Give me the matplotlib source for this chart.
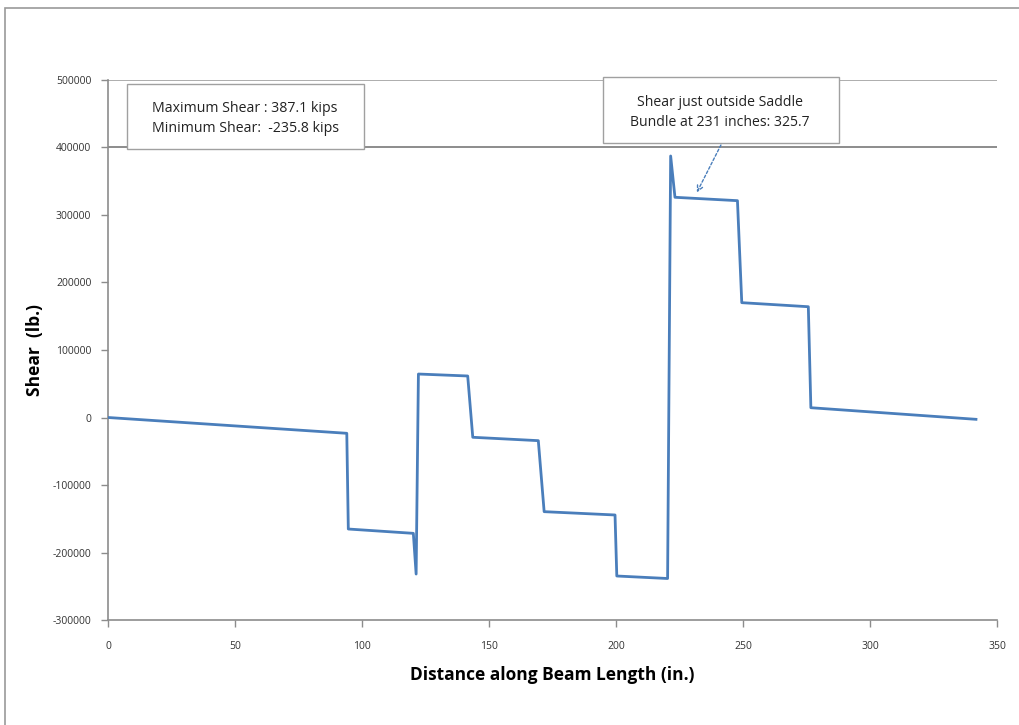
import matplotlib
matplotlib.use("Agg")
import matplotlib.pyplot as plt
from matplotlib.patches import Rectangle

plt.rcParams['font.family'] = ['Open Sans', 'DejaVu Sans']

# shear diagram vertices (in., lb.)
distance = [0, 94.0, 94.6, 120.2, 121.3, 122.2, 141.6, 143.6, 169.4, 171.7,
            199.6, 200.3, 220.3, 221.5, 223.2, 247.8, 249.5, 275.7, 276.7, 341.7]
shear = [0, -23400, -165200, -171600, -231900, 64400, 61500, -29300, -34300, -139500,
         -144400, -234800, -238500, 387400, 326200, 321200, 170100, 164100, 14500, -2700]

y_ticks = [-300000, -200000, -100000, 0, 100000, 200000, 300000, 400000, 500000]
x_ticks = [0, 50, 100, 150, 200, 250, 300, 350]

fig = plt.figure(figsize=(10.2, 7.25), dpi=100)
ax = fig.add_axes([0.1059, 0.1448, 0.8716, 0.7449])

# outer chart frame (cropped at right and bottom)
fig.patches.append(Rectangle((5 / 1020, -0.1), 1.2, 0.1 + (725 - 8) / 725,
                             transform=fig.transFigure, fill=False,
                             edgecolor='#9a9a9a', linewidth=1.2))

ax.axhline(500000, color='#a0a0a0', linewidth=1.2, zorder=1)
ax.axhline(400000, color='#8c8c8c', linewidth=1.4, zorder=1)

ax.plot(distance, shear, color='#4a7ebb', linewidth=2.0, zorder=3)

ax.set_xlim(0, 350)
ax.set_ylim(-300000, 500000)
ax.set_xticks(x_ticks)
ax.set_yticks(y_ticks)
ax.set_xticklabels([str(v) for v in x_ticks])
ax.set_yticklabels([str(v) for v in y_ticks])
ax.tick_params(axis='both', direction='out', length=5, width=1, color='#8c8c8c',
               labelsize=7.5, labelcolor='#333333')
ax.tick_params(axis='x', pad=10)
ax.tick_params(axis='y', pad=7)

for side in ['top', 'right']:
    ax.spines[side].set_visible(False)
for side in ['left', 'bottom']:
    ax.spines[side].set_color('#8c8c8c')
    ax.spines[side].set_linewidth(1.2)

ax.set_xlabel('Distance along Beam Length (in.)', fontsize=12.5, fontweight='bold',
              labelpad=10)
fig.text(35 / 1020, 1 - 350 / 725, 'Shear  (lb.)', rotation=90, fontsize=12.5,
         fontweight='bold', ha='center', va='center')

# text boxes
box1 = Rectangle((127 / 1020, 1 - 149 / 725), 237 / 1020, 65 / 725,
                 transform=fig.transFigure, facecolor='white', edgecolor='#a0a0a0',
                 linewidth=1.0, zorder=5)
fig.patches.append(box1)
fig.text(152 / 1020, 1 - 109 / 725, 'Maximum Shear : 387.1 kips', fontsize=10.2,
         va='center', ha='left', zorder=6, color='#222222')
fig.text(152 / 1020, 1 - 128 / 725, 'Minimum Shear:  -235.8 kips', fontsize=10.2,
         va='center', ha='left', zorder=6, color='#222222')

box2 = Rectangle((603 / 1020, 1 - 143 / 725), 236 / 1020, 66 / 725,
                 transform=fig.transFigure, facecolor='white', edgecolor='#a0a0a0',
                 linewidth=1.0, zorder=5)
fig.patches.append(box2)
fig.text(720 / 1020, 1 - 102 / 725, 'Shear just outside Saddle', fontsize=10.1,
         va='center', ha='center', zorder=6, color='#222222')
fig.text(720 / 1020, 1 - 122 / 725, 'Bundle at 231 inches: 325.7', fontsize=10.1,
         va='center', ha='center', zorder=6, color='#222222')

ax.annotate('', xy=(231.8, 333300), xytext=(241.3, 403700),
            arrowprops=dict(arrowstyle='->', color='#4a7ebb', linestyle=(0, (2, 1.5)),
                            linewidth=1.0, shrinkA=0, shrinkB=0),
            zorder=4, annotation_clip=False)

fig.savefig('out.png', dpi=100)
